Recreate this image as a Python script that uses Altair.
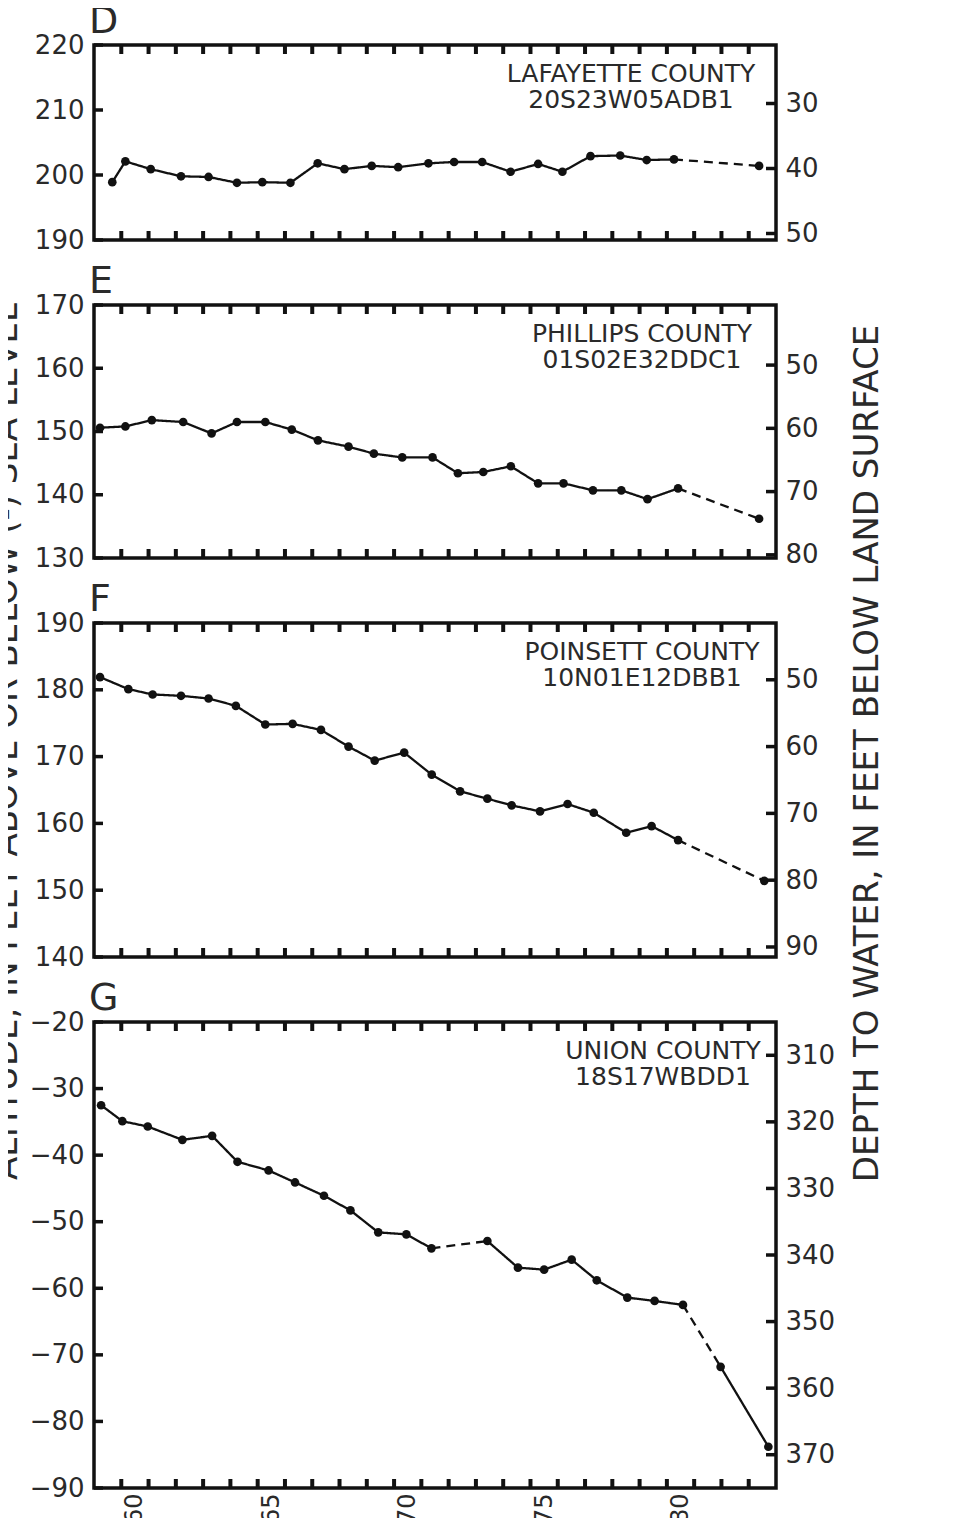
import altair as alt
import pandas as pd

# ---------------- data ----------------
YEAR_MIN, YEAR_MAX = 1959, 1984
TICK_YEARS = list(range(1960, 1984))
LABEL_YEARS = [1960, 1965, 1970, 1975, 1980]

PANEL_LETTERS = ["D", "E", "F", "G"]
COUNTIES = ["LAFAYETTE COUNTY", "PHILLIPS COUNTY", "POINSETT COUNTY", "UNION COUNTY"]
WELLS = ["20S23W05ADB1", "01S02E32DDC1", "10N01E12DBB1", "18S17WBDD1"]

D_YEARS = [1959.67, 1960.15, 1961.08, 1962.19, 1963.20, 1964.24, 1965.17, 1966.20, 1967.20,
           1968.18, 1969.18, 1970.15, 1971.26, 1972.20, 1973.23, 1974.27, 1975.28, 1976.17,
           1977.20, 1978.29, 1979.26, 1980.26, 1983.38]
D_ALT = [198.9, 202.1, 200.9, 199.8, 199.7, 198.8, 198.9, 198.8, 201.8, 200.9, 201.4, 201.2,
         201.8, 202.0, 202.0, 200.5, 201.7, 200.5, 202.9, 203.0, 202.3, 202.4, 201.4]

E_YEARS = [1959.22, 1960.15, 1961.12, 1962.27, 1963.31, 1964.24, 1965.28, 1966.25, 1967.21,
           1968.33, 1969.26, 1970.30, 1971.41, 1972.34, 1973.27, 1974.28, 1975.28, 1976.21,
           1977.29, 1978.33, 1979.29, 1980.41, 1983.38]
E_ALT = [150.6, 150.8, 151.8, 151.5, 149.7, 151.5, 151.5, 150.3, 148.6, 147.6, 146.5, 145.9,
         145.9, 143.4, 143.6, 144.5, 141.8, 141.8, 140.7, 140.7, 139.3, 141.0, 136.2]

F_YEARS = [1959.22, 1960.26, 1961.15, 1962.19, 1963.20, 1964.20, 1965.28, 1966.28, 1967.32,
           1968.33, 1969.29, 1970.37, 1971.38, 1972.42, 1973.42, 1974.31, 1975.35, 1976.36,
           1977.32, 1978.51, 1979.44, 1980.41, 1983.57]
F_ALT = [181.9, 180.1, 179.3, 179.1, 178.7, 177.6, 174.8, 174.9, 174.0, 171.5, 169.4, 170.6,
         167.3, 164.8, 163.7, 162.7, 161.8, 162.9, 161.6, 158.6, 159.6, 157.5, 151.4]

G_YEARS = [1959.26, 1960.04, 1960.97, 1962.24, 1963.33, 1964.26, 1965.40, 1966.37, 1967.43,
           1968.40, 1969.42, 1970.45, 1971.37, 1973.42, 1974.54, 1975.50, 1976.51, 1977.43,
           1978.55, 1979.55, 1980.59, 1981.97, 1983.72]
G_ALT = [-32.5, -34.9, -35.7, -37.7, -37.1, -41.0, -42.3, -44.1, -46.1, -48.3, -51.6, -51.9,
         -54.0, -52.9, -56.9, -57.2, -55.7, -58.8, -61.4, -61.9, -62.5, -71.8, -83.8]

YEARS = [D_YEARS, E_YEARS, F_YEARS, G_YEARS]
ALTS = [D_ALT, E_ALT, F_ALT, G_ALT]

# (start index, end index, line kind)
SEGMENTS = [
    [(0, 21, "solid"), (21, 22, "dashed")],
    [(0, 21, "solid"), (21, 22, "dashed")],
    [(0, 21, "solid"), (21, 22, "dashed")],
    [(0, 12, "solid"), (12, 13, "dashed"), (13, 20, "solid"), (20, 21, "dashed"), (21, 22, "solid")],
]

ALT_TICKS = [
    [190, 200, 210, 220],
    [130, 140, 150, 160, 170],
    [140, 150, 160, 170, 180, 190],
    [-90, -80, -70, -60, -50, -40, -30, -20],
]
LAND_SURFACE = [241.0, 210.5, 231.5, 285.0]
DEPTH_TICKS = [
    [30, 40, 50],
    [50, 60, 70, 80],
    [50, 60, 70, 80, 90],
    [310, 320, 330, 340, 350, 360, 370],
]

LEFT_TITLE = "ALTITUDE, IN FEET ABOVE OR BELOW (-) SEA LEVEL"
RIGHT_TITLE = "DEPTH TO WATER, IN FEET BELOW LAND SURFACE"

# ---------------- style ----------------
W = 682
HEIGHTS = [195, 253, 334, 466]
SPACING = 65
FONT = "DejaVu Sans"
INK = "#111111"
TXT = "#2a2a2a"
LABEL_CX = [537, 548, 548, 569]


def panel(i):
    yrs, alts = YEARS[i], ALTS[i]
    ticks = ALT_TICKS[i]
    lo, hi = ticks[0], ticks[-1]
    ls = LAND_SURFACE[i]
    h = HEIGHTS[i]
    last = i == 3
    mid = i == 2

    pts = pd.DataFrame({"year": yrs, "alt": alts})
    rows = []
    for sid, (a, b, kind) in enumerate(SEGMENTS[i]):
        for k in range(a, b + 1):
            rows.append({"year": yrs[k], "alt": alts[k], "seg": sid, "kind": kind})
    segs = pd.DataFrame(rows)

    xscale = alt.Scale(domain=[YEAR_MIN, YEAR_MAX], nice=False, zero=False)
    yscale = alt.Scale(domain=[lo, hi], nice=False, zero=False)

    if last:
        xaxis = alt.Axis(values=[y + 0.5 for y in LABEL_YEARS],
                         labelExpr="format(floor(datum.value), 'd')",
                         labelAngle=270, labelAlign="right", labelBaseline="middle",
                         ticks=False, domain=False, grid=False, labelFontSize=24,
                         labelFont=FONT, labelColor=TXT, labelPadding=5, title=None)
    else:
        xaxis = None

    ykw = dict(values=ticks, ticks=False, domain=False, grid=False, labelPadding=10,
               labelFontSize=26, labelFont=FONT, labelColor=TXT, format="d")
    if mid:
        yaxis = alt.Axis(title=LEFT_TITLE, titleFont=FONT, titleFontSize=34,
                         titleFontWeight="normal", titleColor=TXT, titleAngle=270,
                         titleAlign="center", titleBaseline="alphabetic",
                         titleX=-78, titleY=118, **ykw)
    else:
        yaxis = alt.Axis(title=None, **ykw)

    X = alt.X("year:Q", scale=xscale, axis=xaxis)
    Y = alt.Y("alt:Q", scale=yscale, axis=yaxis)

    lines = alt.Chart(segs).mark_line(color=INK, strokeWidth=2.3).encode(
        x=X, y=Y, detail="seg:N",
        strokeDash=alt.StrokeDash("kind:N", scale=alt.Scale(domain=["solid", "dashed"],
                                                             range=[[1, 0], [9, 6]]), legend=None),
    )
    dots = alt.Chart(pts).mark_circle(size=75, color=INK, opacity=1).encode(x=X, y=Y)

    tick_df = pd.DataFrame({"alt": ticks})
    left_ticks = alt.Chart(tick_df).mark_rule(color=INK, strokeWidth=3.5).encode(
        y=Y, x=alt.value(0), x2=alt.value(9))

    yr_df = pd.DataFrame({"year": TICK_YEARS})
    top_ticks = alt.Chart(yr_df).mark_rule(color=INK, strokeWidth=4).encode(
        x=X, y=alt.value(0), y2=alt.value(9))
    bot_ticks = alt.Chart(yr_df).mark_rule(color=INK, strokeWidth=4).encode(
        x=X, y=alt.value(h), y2=alt.value(h - 9))

    lab_df = pd.DataFrame({"t": [COUNTIES[i]]})
    well_df = pd.DataFrame({"t": [WELLS[i]]})
    letter_df = pd.DataFrame({"t": [PANEL_LETTERS[i]]})
    county = alt.Chart(lab_df).mark_text(font=FONT, fontSize=25, color=TXT, align="center",
                                         baseline="middle").encode(
        text="t:N", x=alt.value(LABEL_CX[i]), y=alt.value(28.5))
    well = alt.Chart(well_df).mark_text(font=FONT, fontSize=25, color=TXT, align="center",
                                        baseline="middle").encode(
        text="t:N", x=alt.value(LABEL_CX[i]), y=alt.value(55))
    letter = alt.Chart(letter_df).mark_text(font=FONT, fontSize=38, color=TXT, align="left",
                                            baseline="alphabetic").encode(
        text="t:N", x=alt.value(-5), y=alt.value(-12))

    alt_layer = alt.layer(left_ticks, top_ticks, bot_ticks, lines, dots, county, well, letter)

    rkw = dict(values=DEPTH_TICKS[i], ticks=False, domain=False, grid=False, labelPadding=9,
               labelFontSize=26, labelFont=FONT, labelColor=TXT, orient="right", format="d")
    if mid:
        raxis = alt.Axis(title=RIGHT_TITLE, titleFont=FONT, titleFontSize=34,
                         titleFontWeight="normal", titleColor=TXT, titleAngle=270,
                         titleAlign="center", titleBaseline="alphabetic",
                         titleX=101, titleY=130, **rkw)
    else:
        raxis = alt.Axis(title=None, **rkw)

    depth_df = pd.DataFrame({"depth": DEPTH_TICKS[i]})
    depth_layer = alt.Chart(depth_df).mark_rule(color=INK, strokeWidth=3.5).encode(
        y=alt.Y("depth:Q", scale=alt.Scale(domain=[ls - hi, ls - lo], reverse=True,
                                           nice=False, zero=False), axis=raxis),
        x=alt.value(W), x2=alt.value(W - 10))

    return alt.layer(alt_layer, depth_layer).resolve_scale(y="independent").properties(
        width=W, height=h)


chart = alt.vconcat(*[panel(i) for i in range(4)], spacing=SPACING, bounds="flush").resolve_scale(
    y="independent"
).properties(padding={"left": -21, "top": -7, "right": 0, "bottom": 0}).configure_view(
    stroke=INK, strokeWidth=3.5).configure_axis(grid=False)

chart.save("out.html", embed_options={"renderer": "svg", "actions": False})
